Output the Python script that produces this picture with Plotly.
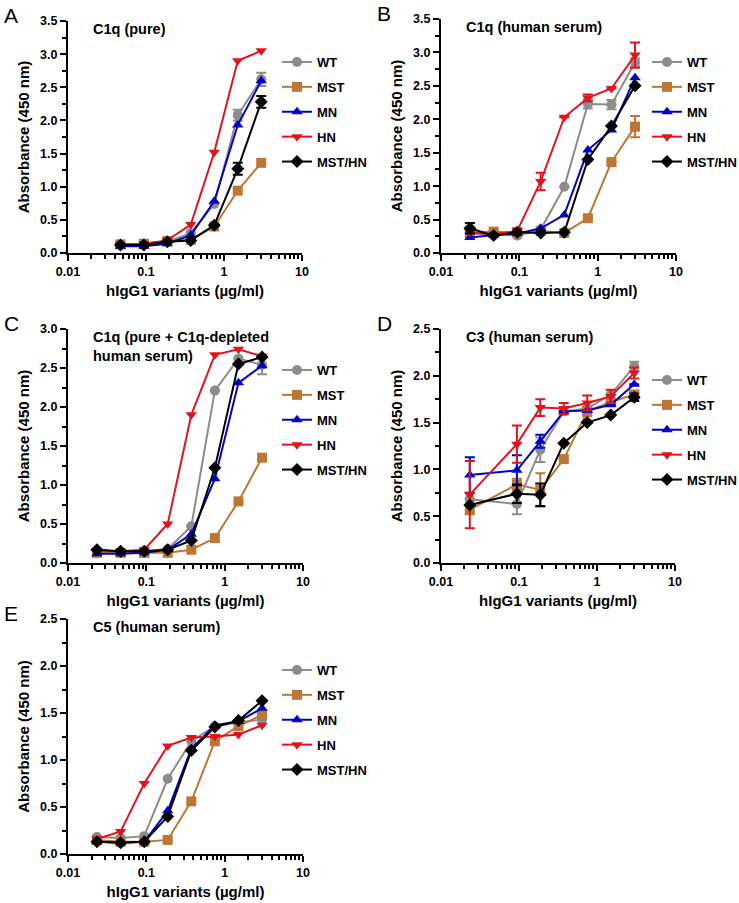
import plotly.graph_objects as go

# concentrations (ug/ml)
conc7 = [0.047, 0.094, 0.1875, 0.375, 0.75, 1.5, 3.0]
conc8 = [0.0234, 0.047, 0.094, 0.1875, 0.375, 0.75, 1.5, 3.0]
conc_d = [0.0234, 0.094, 0.1875, 0.375, 0.75, 1.5, 3.0]

variants = ["WT", "MST", "MN", "HN", "MST/HN"]
colors = ["#8c8c8c", "#bc7733", "#0000c8", "#e0141e", "#000000"]
symbols = ["circle", "square", "triangle-up", "triangle-down", "diamond"]

# A - C1q (pure)
a_wt = [0.12, 0.12, 0.17, 0.30, 0.74, 2.08, 2.62]
a_mst = [0.13, 0.14, 0.18, 0.20, 0.40, 0.94, 1.36]
a_mn = [0.10, 0.10, 0.14, 0.27, 0.78, 1.93, 2.60]
a_hn = [0.13, 0.14, 0.19, 0.43, 1.52, 2.90, 3.05]
a_msthn = [0.12, 0.12, 0.17, 0.19, 0.42, 1.27, 2.28]
a_wt_err = [None, None, None, None, None, 0.08, 0.10]
a_msthn_err = [None, None, None, None, None, 0.09, 0.09]

# B - C1q (human serum)
b_wt = [0.28, 0.28, 0.26, 0.35, 0.99, 2.23, 2.22, 2.85]
b_mst = [0.30, 0.32, 0.30, 0.33, 0.30, 0.52, 1.36, 1.89]
b_mn = [0.23, 0.27, 0.29, 0.37, 0.57, 1.54, 1.84, 2.62]
b_hn = [0.31, 0.28, 0.33, 1.07, 2.03, 2.32, 2.46, 2.96]
b_msthn = [0.37, 0.26, 0.31, 0.30, 0.31, 1.40, 1.90, 2.50]
b_wt_err = [None, None, None, None, None, 0.07, 0.07, 0.06]
b_mst_err = [None, None, None, None, None, None, None, 0.16]
b_hn_err = [None, None, 0.04, 0.13, None, 0.05, None, 0.19]
b_msthn_err = [0.08, None, None, None, None, None, None, None]

# C - C1q (pure + C1q-depleted human serum)
c_wt = [0.15, 0.14, 0.15, 0.18, 0.47, 2.21, 2.62, 2.54]
c_mst = [0.13, 0.13, 0.13, 0.13, 0.17, 0.32, 0.79, 1.35]
c_mn = [0.12, 0.12, 0.13, 0.17, 0.37, 1.08, 2.31, 2.53]
c_hn = [0.16, 0.15, 0.17, 0.50, 1.90, 2.67, 2.74, 2.65]
c_msthn = [0.17, 0.15, 0.15, 0.17, 0.29, 1.22, 2.55, 2.64]
c_wt_err = [None, None, None, None, None, None, None, 0.12]

# D - C3 (human serum)
d_wt = [0.68, 0.63, 1.21, 1.62, 1.65, 1.80, 2.10]
d_mst = [0.57, 0.84, 0.78, 1.11, 1.62, 1.72, 1.80]
d_mn = [0.94, 0.99, 1.30, 1.62, 1.63, 1.69, 1.91]
d_hn = [0.73, 1.27, 1.66, 1.65, 1.71, 1.78, 2.03]
d_msthn = [0.62, 0.74, 0.73, 1.28, 1.50, 1.58, 1.77]
d_wt_err = [None, 0.11, 0.13, None, None, None, 0.05]
d_mst_err = [0.05, 0.06, 0.18, None, 0.05, None, 0.04]
d_mn_err = [0.19, 0.16, 0.07, None, None, None, None]
d_hn_err = [0.36, 0.20, 0.09, 0.06, 0.08, 0.07, 0.06]
d_msthn_err = [None, 0.10, 0.12, None, None, None, 0.04]

# E - C5 (human serum)
e_wt = [0.18, 0.17, 0.19, 0.80, 1.20, 1.36, 1.40, 1.43]
e_mst = [0.15, 0.13, 0.13, 0.15, 0.56, 1.20, 1.36, 1.48]
e_mn = [0.13, 0.12, 0.13, 0.46, 1.12, 1.37, 1.41, 1.55]
e_hn = [0.16, 0.24, 0.75, 1.15, 1.24, 1.25, 1.27, 1.37]
e_msthn = [0.13, 0.12, 0.13, 0.40, 1.10, 1.35, 1.42, 1.63]

titles = ["C1q (pure)", "C1q (human serum)", "C1q (pure + C1q-depleted<br>human serum)",
          "C3 (human serum)", "C5 (human serum)"]
letters = ["A", "B", "C", "D", "E"]
ymax = [3.5, 3.5, 3.0, 2.5, 2.5]
xtickvals = [0.01, 0.1, 1, 10]
xticktext = ["0.01", "0.1", "1", "10"]

panels = [
    (conc7, [a_wt, a_mst, a_mn, a_hn, a_msthn], [a_wt_err, None, None, None, a_msthn_err]),
    (conc8, [b_wt, b_mst, b_mn, b_hn, b_msthn], [b_wt_err, b_mst_err, None, b_hn_err, b_msthn_err]),
    (conc8, [c_wt, c_mst, c_mn, c_hn, c_msthn], [c_wt_err, None, None, None, None]),
    (conc_d, [d_wt, d_mst, d_mn, d_hn, d_msthn], [d_wt_err, d_mst_err, d_mn_err, d_hn_err, d_msthn_err]),
    (conc8, [e_wt, e_mst, e_mn, e_hn, e_msthn], [None] * 5),
]

W, H = 739, 903


def px(x):
    return x / W


def py(y):
    return 1 - y / H


# pixel boxes of the plot areas: left, right, top, bottom
boxes = [(68, 302, 21, 253), (441, 676, 19, 253), (68, 303, 329, 563),
         (441, 675, 329, 563), (68, 303, 619, 854)]
legend_pos = [(277, 47), (647, 47), (277, 355), (647, 365), (277, 655)]

font = dict(family="Liberation Sans", size=12, color="black", weight="bold")

fig = go.Figure()
layout = dict(width=W, height=H, margin=dict(l=0, r=0, t=0, b=0, autoexpand=False),
              plot_bgcolor="white", paper_bgcolor="white", font=font,
              showlegend=True)
annotations = []

for i, (xs, series, errs) in enumerate(panels):
    n = "" if i == 0 else str(i + 1)
    leg = "legend" + n
    for j, name in enumerate(variants):
        err = errs[j]
        fig.add_trace(go.Scatter(
            x=xs, y=series[j], name=name, mode="lines+markers",
            xaxis="x" + n, yaxis="y" + n, legend=leg, legendgroup=f"{i}{j}",
            line=dict(color=colors[j], width=2),
            marker=dict(symbol=symbols[j], size=10, color=colors[j]),
            error_y=dict(type="data", array=err, visible=err is not None,
                         color=colors[j], thickness=2, width=5),
            cliponaxis=False))
    l, r, t, b = boxes[i]
    common = dict(showgrid=False, zeroline=False, showline=True, linecolor="black",
                  linewidth=2, ticks="outside", tickwidth=2, tickcolor="black",
                  ticklen=6, tickfont=dict(font, size=12.5), automargin=False)
    layout["xaxis" + n] = dict(
        common, type="log", range=[-2, 1], domain=[px(l), px(r)], anchor="y" + n,
        tickvals=xtickvals, ticktext=xticktext,
        minor=dict(ticks="outside", ticklen=4, tickwidth=1.5, tickcolor="black",
                   tickvals=[k * 10 ** e for e in (-2, -1, 0) for k in range(2, 10)]),
        title=dict(text="hIgG1 variants (µg/ml)", font=dict(font, size=15), standoff=7))
    layout["yaxis" + n] = dict(
        common, range=[0, ymax[i]], domain=[py(b), py(t)], anchor="x" + n,
        dtick=0.5, tickformat=".1f",
        minor=dict(ticks="outside", ticklen=4, tickwidth=1.5, tickcolor="black", dtick=0.25),
        title=dict(text="Absorbance (450 nm)", font=dict(font, size=15), standoff=7))
    lx, ly = legend_pos[i]
    layout[leg] = dict(x=px(lx), y=py(ly), xanchor="left", yanchor="top",
                       bgcolor="rgba(0,0,0,0)", font=dict(font, size=13),
                       tracegroupgap=5, itemwidth=30)
    annotations.append(dict(text=titles[i], x=px(l + 23), y=py(t - 2),
                            xref="paper", yref="paper", xanchor="left", yanchor="top",
                            align="left", showarrow=False, font=dict(font, size=14.5)))
    annotations.append(dict(text=letters[i], x=px(l - 66), y=py(t - 19),
                            xref="paper", yref="paper", xanchor="left", yanchor="top",
                            showarrow=False,
                            font=dict(family="Liberation Sans", size=21, color="black",
                                      weight="normal")))

layout["annotations"] = annotations
fig.update_layout(**layout)
# drop the default page margin so the figure sits at the window's corner
fig.write_html("out.html", config={"displayModeBar": False},
               post_script="document.body.style.margin = '0px';")
